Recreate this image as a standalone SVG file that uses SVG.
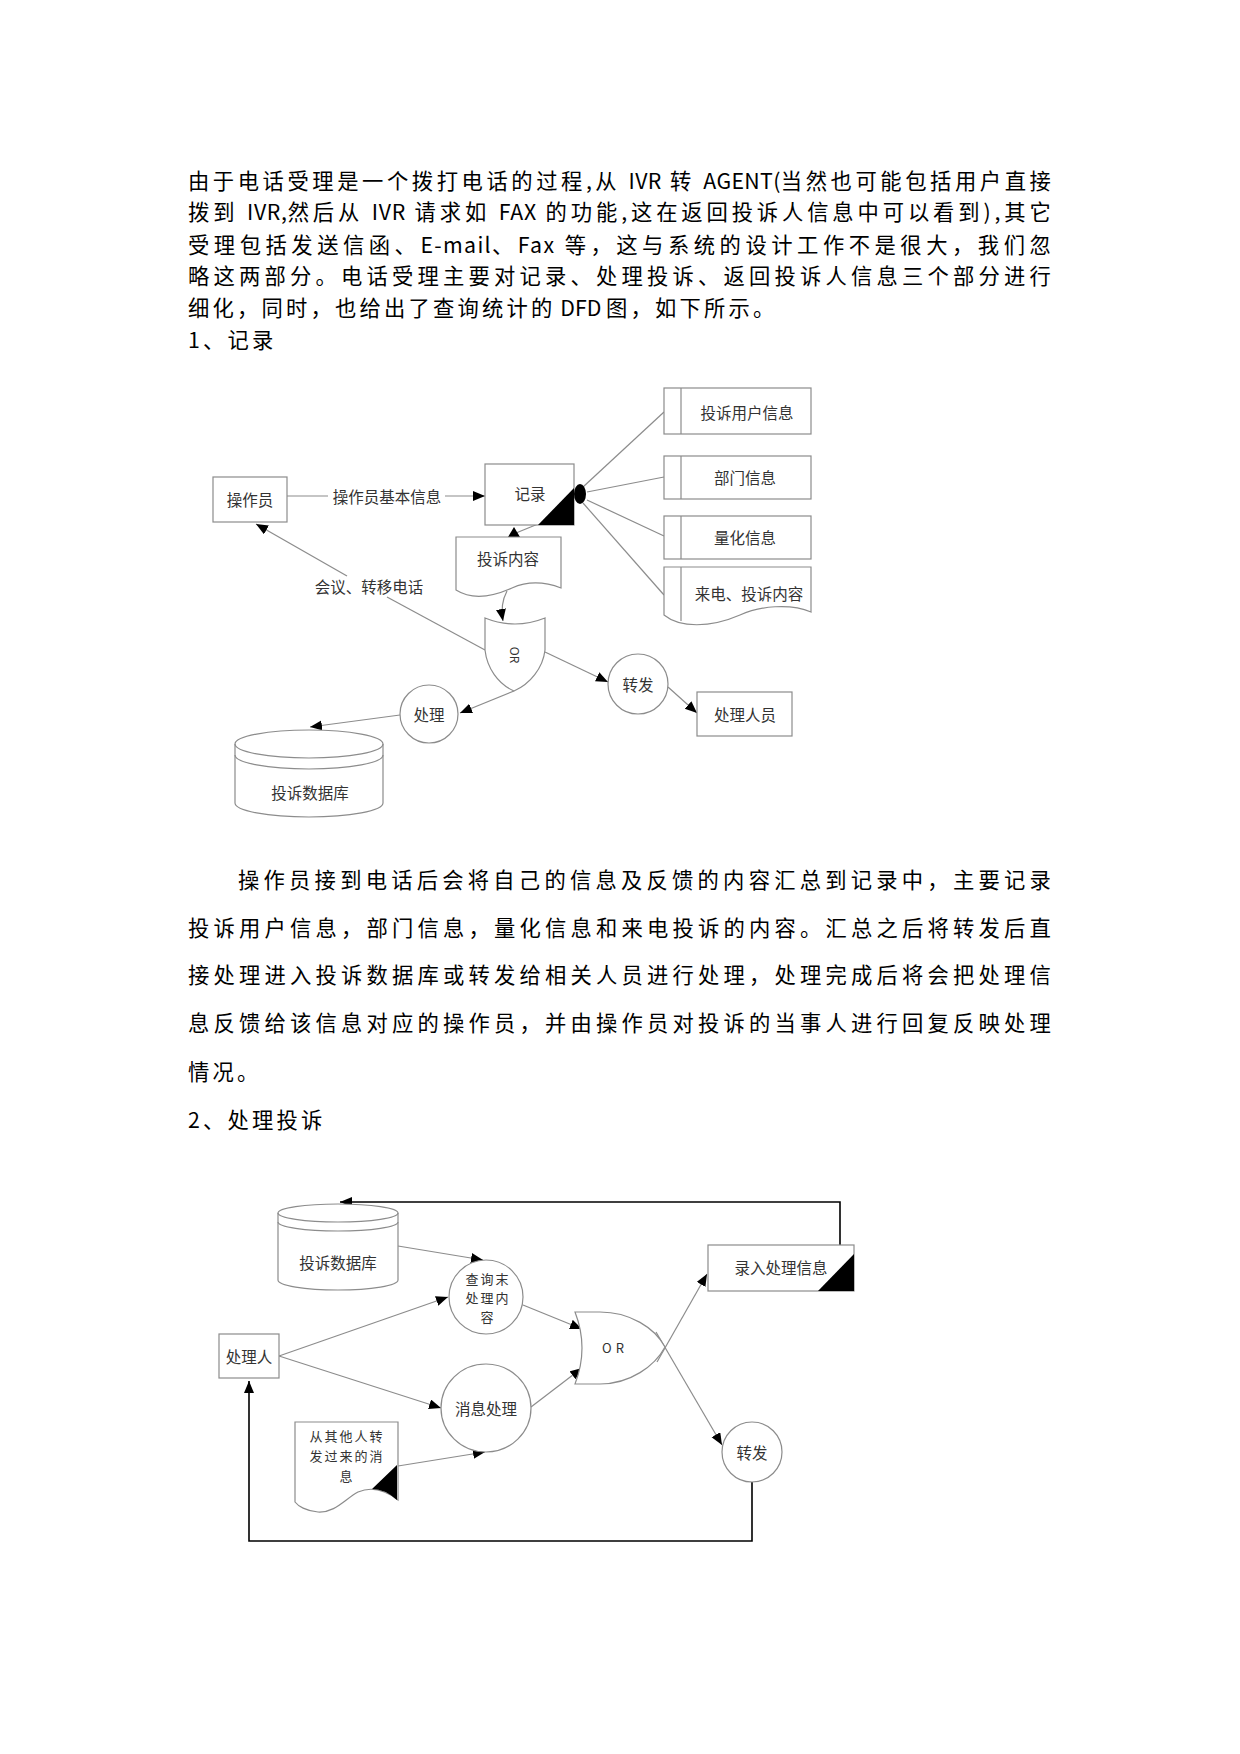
<svg xmlns="http://www.w3.org/2000/svg" width="1240" height="1754" viewBox="0 0 1240 1754">
<defs>
<marker id="ah" markerUnits="userSpaceOnUse" markerWidth="14" markerHeight="12" refX="12" refY="5" orient="auto">
<path d="M0,0 L12,5 L0,10 Z" fill="#000"/>
</marker>
<style>
.body{font-family:"Noto Sans CJK SC","Noto Sans",sans-serif;font-size:21.3px;letter-spacing:3.2px;fill:#000}
.lat{letter-spacing:0}
.lbl{font-family:"Noto Sans CJK SC","Noto Sans",sans-serif;font-size:15.5px;fill:#333;text-anchor:middle;dominant-baseline:central}
.sm{font-size:13px;letter-spacing:2px}
.shp{fill:#fff;stroke:#8c8c8c;stroke-width:1.2}
.ln{fill:none;stroke:#8c8c8c;stroke-width:1.2}
.bk{fill:none;stroke:#000;stroke-width:1.6}
.fill{fill:#000}
</style>
</defs>
<rect width="1240" height="1754" fill="#fff"/>

<g id="para1">
<text class="body" x="188" y="189" textLength="866" lengthAdjust="spacing">由于电话受理是一个拨打电话的过程,从 <tspan class="lat">IVR</tspan> 转 <tspan class="lat">AGENT(</tspan>当然也可能包括用户直接</text>
<text class="body" x="188" y="220" textLength="866" lengthAdjust="spacing">拨到 <tspan class="lat">IVR,</tspan>然后从 <tspan class="lat">IVR</tspan> 请求如 <tspan class="lat">FAX</tspan> 的功能,这在返回投诉人信息中可以看到),其它</text>
<text class="body" x="188" y="253" textLength="866" lengthAdjust="spacing">受理包括发送信函、<tspan class="lat">E-mail</tspan>、<tspan class="lat">Fax</tspan> 等，这与系统的设计工作不是很大，我们忽</text>
<text class="body" x="188" y="284" textLength="866" lengthAdjust="spacing">略这两部分。电话受理主要对记录、处理投诉、返回投诉人信息三个部分进行</text>
<text class="body" x="188" y="316">细化，同时，也给出了查询统计的<tspan class="lat"> DFD </tspan>图，如下所示。</text>
<text class="body" x="188" y="348">1、记录</text>
</g>

<g id="para2">
<text class="body" x="238" y="888" textLength="816" lengthAdjust="spacing">操作员接到电话后会将自己的信息及反馈的内容汇总到记录中，主要记录</text>
<text class="body" x="188" y="936" textLength="866" lengthAdjust="spacing">投诉用户信息，部门信息，量化信息和来电投诉的内容。汇总之后将转发后直</text>
<text class="body" x="188" y="983" textLength="866" lengthAdjust="spacing">接处理进入投诉数据库或转发给相关人员进行处理，处理完成后将会把处理信</text>
<text class="body" x="188" y="1031" textLength="866" lengthAdjust="spacing">息反馈给该信息对应的操作员，并由操作员对投诉的当事人进行回复反映处理</text>
<text class="body" x="188" y="1080">情况。</text>
<text class="body" x="188" y="1128">2、处理投诉</text>
</g>

<!-- Diagram 1 connectors -->
<g id="connectors1">
<line class="ln" x1="287" y1="496" x2="328" y2="496"/>
<line class="ln" x1="445" y1="496" x2="485" y2="496" marker-end="url(#ah)"/>
<text class="lbl" x="387" y="496">操作员基本信息</text>
<line class="ln" x1="538" y1="524" x2="516" y2="533"/>
<polygon class="fill" points="508,537 520,537 514,527"/>
<path class="ln" d="M507,591 Q500,604 503,621" marker-end="url(#ah)"/>
<line class="ln" x1="485" y1="650" x2="387" y2="597"/>
<line class="ln" x1="347" y1="576" x2="256" y2="524" marker-end="url(#ah)"/>
<text class="lbl" x="369" y="586">会议、转移电话</text>
<line class="ln" x1="545" y1="652" x2="608" y2="682" marker-end="url(#ah)"/>
<line class="ln" x1="668" y1="687" x2="697" y2="713" marker-end="url(#ah)"/>
<line class="ln" x1="514" y1="691" x2="460" y2="713" marker-end="url(#ah)"/>
<line class="ln" x1="400" y1="715" x2="310" y2="727" marker-end="url(#ah)"/>
<line class="ln" x1="583" y1="487" x2="664" y2="412"/>
<line class="ln" x1="587" y1="492" x2="664" y2="477"/>
<line class="ln" x1="587" y1="500" x2="664" y2="536"/>
<line class="ln" x1="583" y1="503" x2="664" y2="595"/>
</g>

<g id="n-operator">
<rect class="shp" x="213" y="477" width="74" height="45"/>
<text class="lbl" x="250" y="499">操作员</text>
</g>
<g id="n-record">
<rect class="shp" x="485" y="464" width="89" height="61"/>
<polygon class="fill" points="538,525 574,488 574,525"/>
<ellipse class="fill" cx="580" cy="494" rx="6" ry="10"/>
<text class="lbl" x="530" y="493">记录</text>
</g>
<g id="n-complaint-content">
<path class="shp" d="M456,537 L561,537 L561,588 C548,583 530,580 512,588 C492,597 472,600 456,590 Z"/>
<text class="lbl" x="508" y="558">投诉内容</text>
</g>
<g id="n-or1">
<path class="shp" d="M485,618 Q515,630 545,618 L545,650 C543,668 530,684 514,691 C498,684 487,668 485,650 Z"/>
<text class="lbl" x="515" y="655" transform="rotate(90 515 655)" style="font-size:12px">OR</text>
</g>
<g id="n-forward1">
<circle class="shp" cx="638" cy="684" r="30"/>
<text class="lbl" x="638" y="684">转发</text>
</g>
<g id="n-handler-staff">
<rect class="shp" x="697" y="692" width="95" height="44"/>
<text class="lbl" x="745" y="714">处理人员</text>
</g>
<g id="n-process1">
<circle class="shp" cx="429" cy="714" r="29"/>
<text class="lbl" x="429" y="714">处理</text>
</g>
<g id="n-db1">
<path class="shp" d="M235,744 A74,14 0 0 1 383,744 L383,803 A74,14 0 0 1 235,803 Z"/>
<path class="ln" d="M235,744 A74,14 0 0 0 383,744"/>
<path class="ln" d="M235,755 A74,14 0 0 0 383,755"/>
<text class="lbl" x="310" y="792">投诉数据库</text>
</g>
<g id="n-store-user">
<rect class="shp" x="664" y="388" width="147" height="46"/>
<line class="ln" x1="681" y1="388" x2="681" y2="434"/>
<text class="lbl" x="747" y="412">投诉用户信息</text>
</g>
<g id="n-store-dept">
<rect class="shp" x="664" y="456" width="147" height="43"/>
<line class="ln" x1="681" y1="456" x2="681" y2="499"/>
<text class="lbl" x="745" y="477">部门信息</text>
</g>
<g id="n-store-quant">
<rect class="shp" x="664" y="516" width="147" height="43"/>
<line class="ln" x1="681" y1="516" x2="681" y2="559"/>
<text class="lbl" x="745" y="537">量化信息</text>
</g>
<g id="n-store-call">
<path class="shp" d="M664,567 L811,567 L811,612 C790,603 760,606 740,615 C710,628 680,628 664,615 Z"/>
<line class="ln" x1="681" y1="567" x2="681" y2="621"/>
<text class="lbl" x="749" y="593">来电、投诉内容</text>
</g>

<!-- Diagram 2 connectors -->
<g id="connectors2">
<polyline class="bk" points="840,1245 840,1202 340,1202" marker-end="url(#ah)"/>
<polyline class="bk" points="752,1482 752,1541 249,1541 249,1381" marker-end="url(#ah)"/>
<line class="ln" x1="398" y1="1246" x2="483" y2="1260" marker-end="url(#ah)"/>
<line class="ln" x1="279" y1="1356" x2="448" y2="1297" marker-end="url(#ah)"/>
<line class="ln" x1="279" y1="1356" x2="441" y2="1408" marker-end="url(#ah)"/>
<line class="ln" x1="398" y1="1466" x2="485" y2="1452" marker-end="url(#ah)"/>
<line class="ln" x1="523" y1="1305" x2="582" y2="1329" marker-end="url(#ah)"/>
<line class="ln" x1="531" y1="1407" x2="582" y2="1368" marker-end="url(#ah)"/>
<line class="ln" x1="657" y1="1362" x2="707" y2="1274" marker-end="url(#ah)"/>
<line class="ln" x1="656" y1="1332" x2="722" y2="1445" marker-end="url(#ah)"/>
</g>

<g id="n-db2">
<path class="shp" d="M278,1213 A60,9 0 0 1 398,1213 L398,1280 A60,10 0 0 1 278,1280 Z"/>
<path class="ln" d="M278,1213 A60,9 0 0 0 398,1213"/>
<path class="ln" d="M278,1222 A60,9 0 0 0 398,1222"/>
<text class="lbl" x="338" y="1262">投诉数据库</text>
</g>
<g id="n-query">
<circle class="shp" cx="486" cy="1297" r="37"/>
<text class="lbl sm" x="488" y="1278">查询末</text>
<text class="lbl sm" x="488" y="1297">处理内</text>
<text class="lbl sm" x="488" y="1316">容</text>
</g>
<g id="n-handler">
<rect class="shp" x="219" y="1334" width="60" height="44"/>
<text class="lbl" x="249" y="1356">处理人</text>
</g>
<g id="n-msg">
<ellipse class="shp" cx="486" cy="1408" rx="45" ry="44"/>
<text class="lbl" x="486" y="1408">消息处理</text>
</g>
<g id="n-fwd-doc">
<path class="shp" d="M295,1422 L398,1422 L398,1500 C385,1490 372,1486 358,1492 C345,1499 335,1513 318,1512 C306,1511 298,1506 295,1502 Z"/>
<path class="fill" d="M372,1489 L397,1465 L397,1500 Q385,1489 372,1489 Z"/>
<text class="lbl sm" x="347" y="1435">从其他人转</text>
<text class="lbl sm" x="347" y="1455">发过来的消</text>
<text class="lbl sm" x="347" y="1475">息</text>
</g>
<g id="n-or2">
<path class="shp" d="M575,1312 L600,1312 C630,1312 655,1328 665,1347 C655,1366 630,1384 600,1384 L575,1384 Q589,1348 575,1312 Z"/>
<text class="lbl" x="615" y="1347" style="font-size:13px;letter-spacing:4px">OR</text>
</g>
<g id="n-input">
<rect class="shp" x="708" y="1245" width="146" height="46"/>
<polygon class="fill" points="818,1291 854,1254 854,1291"/>
<text class="lbl" x="781" y="1267">录入处理信息</text>
</g>
<g id="n-forward2">
<circle class="shp" cx="752" cy="1452" r="30"/>
<text class="lbl" x="752" y="1452">转发</text>
</g>
</svg>
